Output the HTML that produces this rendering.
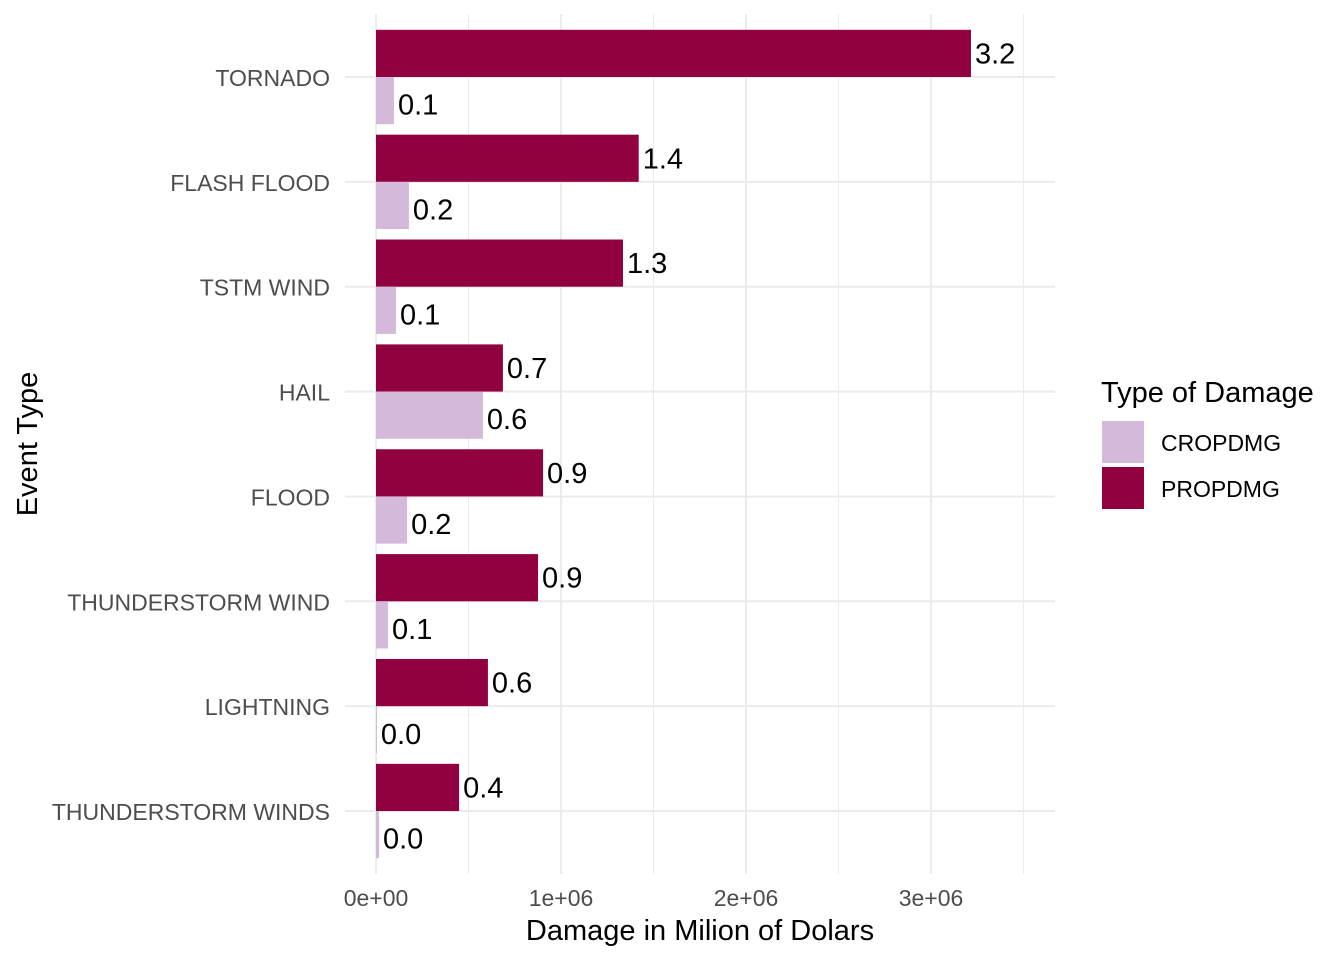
<!DOCTYPE html>
<html><head><meta charset="utf-8"><style>
body{margin:0;background:#fff;font-family:"Liberation Sans",Arial,sans-serif}
</style></head><body>
<svg id="chart" width="1344" height="960" xmlns="http://www.w3.org/2000/svg" font-family="Liberation Sans, Arial, sans-serif">
<g id="grid"></g>
<g id="bars"></g>
<g id="ylabels"></g>
<g id="xlabels"></g>
<text x="700" y="940" text-anchor="middle" font-size="29" fill="#000">Damage in Milion of Dolars</text>
<text transform="translate(37,444) rotate(-90)" text-anchor="middle" font-size="29" fill="#000">Event Type</text>
<g>
<text x="1101" y="402" font-size="29" fill="#000">Type of Damage</text>
<rect x="1102" y="421" width="42" height="42" fill="#D4B9DA"/>
<text x="1161" y="451" font-size="23" fill="#000">CROPDMG</text>
<rect x="1102" y="467" width="42" height="42" fill="#91003F"/>
<text x="1161" y="497" font-size="23" fill="#000">PROPDMG</text>
</g>
</svg>
<script>
const categories=["TORNADO","FLASH FLOOD","TSTM WIND","HAIL","FLOOD","THUNDERSTORM WIND","LIGHTNING","THUNDERSTORM WINDS"];
const propValues=[3216000,1420000,1335000,686000,903000,876000,605000,449000];
const cropValues=[97000,178000,108000,578000,168000,65000,5000,16000];
const xTicks=[0,1000000,2000000,3000000];
const xTickLabels=["0e+00","1e+06","2e+06","3e+06"];
const NS="http://www.w3.org/2000/svg";
const x=v=>376+v*185/1e6;
const y=i=>77+i*104.86;
const bw=104.86*0.45;
function mk(p,tag,a){const e=document.createElementNS(NS,tag);for(const k in a)e.setAttribute(k,a[k]);p.appendChild(e);return e;}
const grid=document.getElementById('grid'),bars=document.getElementById('bars'),yl=document.getElementById('ylabels'),xl=document.getElementById('xlabels');
[500000,1500000,2500000,3500000].forEach(v=>{const l=mk(grid,'line',{x1:x(v),x2:x(v),y1:14,y2:874,stroke:'#EBEBEB','stroke-width':1});

});
xTicks.forEach((v,i)=>{const l=mk(grid,'line',{x1:x(v),x2:x(v),y1:14,y2:874,stroke:'#EBEBEB','stroke-width':2});


const t=mk(xl,'text',{x:x(v),y:906,'text-anchor':'middle','font-size':23,fill:'#4D4D4D'});t.textContent=xTickLabels[i];

});
categories.forEach((c,i)=>{const l=mk(grid,'line',{x1:345,x2:1055,y1:y(i),y2:y(i),stroke:'#EBEBEB','stroke-width':2});


const t=mk(yl,'text',{x:330,y:y(i)+9,'text-anchor':'end','font-size':23,fill:'#4D4D4D'});t.textContent=c;


const pb=mk(bars,'rect',{x:x(0),y:y(i)-bw,width:x(propValues[i])-x(0),height:bw,fill:'#91003F'});


const cb=mk(bars,'rect',{x:x(0),y:y(i),width:x(cropValues[i])-x(0),height:bw,fill:'#D4B9DA'});


const pl=mk(bars,'text',{x:x(propValues[i])+4,y:y(i)-bw/2+10,'font-size':29,fill:'#000'});pl.textContent=(propValues[i]/1e6).toFixed(1);


const cl=mk(bars,'text',{x:x(cropValues[i])+4,y:y(i)+bw/2+14,'font-size':29,fill:'#000'});cl.textContent=(cropValues[i]/1e6).toFixed(1);

});
</script>
</body></html>
